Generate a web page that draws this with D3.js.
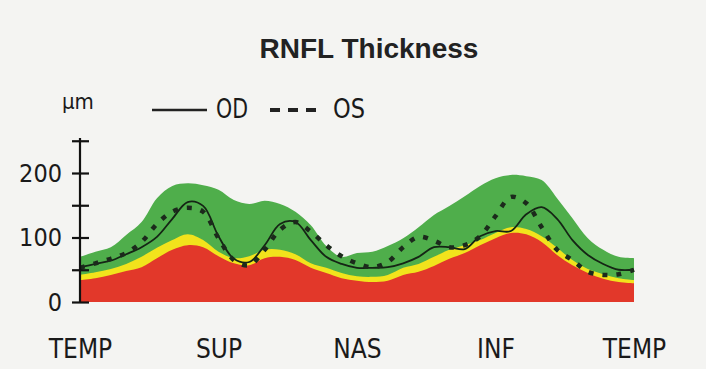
<!DOCTYPE html>
<html>
<head>
<meta charset="utf-8">
<script src="https://cdn.jsdelivr.net/npm/d3@7"></script>
<style>
  html, body { margin: 0; padding: 0; background: #f4f4f2; }
  svg { display: block; }
</style>
</head>
<body>
<svg id="chart" width="706" height="369"></svg>
<script>
// Angular position (degrees, TEMP -> SUP -> NAS -> INF -> TEMP)
const angles = d3.range(0, 361, 10);

// Normative bands (upper limit of each colour), µm
const greenTop  = [70,78,85,104,124,161,180,184,181,174,158,152,157,152,140,119,87,70,76,78,87,99,116,135,149,164,180,192,197,195,189,161,130,99,81,70,68];
const yellowTop = [42,46,51,59,70,84,96,105,96,78,68,71,81,81,74,60,53,45,40,39,42,53,59,70,81,88,96,107,116,113,102,84,65,51,43,37,34];
const redTop    = [34,37,42,48,54,68,81,88,85,71,60,57,68,70,65,53,45,37,33,31,33,42,47,56,67,76,88,99,107,105,93,73,57,45,36,31,29];

// Measured thickness, µm
const od = [54,59,64,74,85,101,129,155,149,102,67,62,88,121,124,96,70,59,53,53,54,60,70,85,85,82,102,110,110,136,147,129,96,73,59,50,50];
const os = [53,60,67,76,93,121,140,146,140,99,65,57,81,112,124,109,88,71,60,54,62,85,101,95,85,88,102,133,163,153,116,81,65,47,42,43,50];

const yTickValues = [0, 50, 100, 150, 200, 250];
const yTickLabels = {0: "0", 100: "100", 200: "200"};
const xTickValues = [0, 90, 180, 270, 360];
const xTickLabels = ["TEMP", "SUP", "NAS", "INF", "TEMP"];

const svg = d3.select("#chart");
const narrow = "'Liberation Sans Narrow', 'Arial Narrow', 'DejaVu Sans Condensed', sans-serif";

svg.append("rect").attr("width", 706).attr("height", 369).attr("fill", "#f4f4f2");

const x = d3.scaleLinear().domain([0, 360]).range([80, 634]);
const y = d3.scaleLinear().domain([0, 250]).range([302, 140.75]);

const defs = svg.append("defs");
defs.append("filter").attr("id", "soft")
  .append("feGaussianBlur").attr("stdDeviation", 0.7);

function band(vals, color) {
  const area = d3.area()
    .x((d, i) => x(angles[i]))
    .y0(y(0))
    .y1(d => y(d))
    .curve(d3.curveCatmullRom);
  svg.append("path").datum(vals).attr("d", area)
    .attr("fill", color).attr("filter", "url(#soft)");
}
band(greenTop, "#4fae4c");
band(yellowTop, "#f2e31c");
band(redTop, "#e2372c");

const line = d3.line()
  .x((d, i) => x(angles[i]))
  .y(d => y(d))
  .curve(d3.curveCatmullRom);

svg.append("path").datum(od).attr("d", line)
  .attr("fill", "none").attr("stroke", "#152515").attr("stroke-width", 1.8);
svg.append("path").datum(os).attr("d", line)
  .attr("fill", "none").attr("stroke", "#1c2a1c").attr("stroke-width", 4.5)
  .attr("stroke-dasharray", "5,9");

// Y axis
const yAxis = d3.axisLeft(y)
  .tickValues(yTickValues)
  .tickSize(8)
  .tickPadding(10)
  .tickFormat(d => yTickLabels[d] || "");
const gy = svg.append("g").attr("transform", "translate(80,0)").call(yAxis);
gy.select(".domain").attr("d", `M0,${y(0)}V138`).attr("stroke", "#111").attr("stroke-width", 2.2);
gy.selectAll(".tick line").attr("x1", 9).attr("x2", -8).attr("stroke", "#111").attr("stroke-width", 2.2);
gy.selectAll(".tick text")
  .attr("font-family", narrow).attr("font-size", 25).attr("fill", "#1a1a1a");

// X axis labels
const xAxis = d3.axisBottom(x)
  .tickValues(xTickValues)
  .tickSize(0)
  .tickFormat((d, i) => xTickLabels[i]);
const gx = svg.append("g").attr("transform", "translate(0,302)").call(xAxis);
gx.select(".domain").remove();
gx.selectAll(".tick text")
  .attr("y", 56).attr("dy", 0)
  .attr("font-family", narrow).attr("font-size", 26).attr("fill", "#1a1a1a");

// Title
svg.append("text").attr("x", 369).attr("y", 58).attr("text-anchor", "middle")
  .attr("font-family", "'Liberation Sans', Arial, sans-serif").attr("font-weight", "bold")
  .attr("font-size", 28).attr("fill", "#222").text("RNFL Thickness");

// Unit
svg.append("text").attr("x", 62).attr("y", 109)
  .attr("font-family", narrow).attr("font-size", 22).attr("fill", "#1a1a1a").text("µm");

// Legend
svg.append("line").attr("x1", 152).attr("x2", 207).attr("y1", 110).attr("y2", 110)
  .attr("stroke", "#222").attr("stroke-width", 2.4);
svg.append("text").attr("x", 216).attr("y", 118)
  .attr("font-family", narrow).attr("font-size", 26).attr("fill", "#1a1a1a")
  .attr("textLength", 32).attr("lengthAdjust", "spacingAndGlyphs").text("OD");
svg.append("line").attr("x1", 270).attr("x2", 316).attr("y1", 110).attr("y2", 110)
  .attr("stroke", "#222").attr("stroke-width", 4).attr("stroke-dasharray", "10,8");
svg.append("text").attr("x", 333).attr("y", 118)
  .attr("font-family", narrow).attr("font-size", 26).attr("fill", "#1a1a1a")
  .attr("textLength", 32).attr("lengthAdjust", "spacingAndGlyphs").text("OS");
</script>
</body>
</html>
